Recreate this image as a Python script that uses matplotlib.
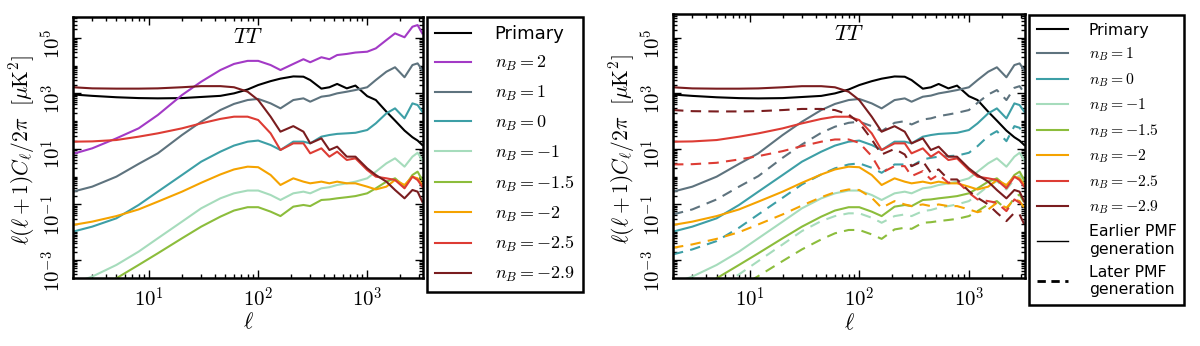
import numpy as np
import matplotlib
matplotlib.use("Agg")
import matplotlib.pyplot as plt
from matplotlib.lines import Line2D
from matplotlib.ticker import LogLocator, FuncFormatter, NullFormatter

plt.rcParams['mathtext.fontset'] = 'cm'
plt.rcParams['font.family'] = ['DejaVu Sans']

# multipole grid
ell = [2, 3, 5, 8, 12, 20, 30, 45, 60, 80, 100, 130, 160, 210, 260, 300, 380, 450,
       530, 650, 780, 1000, 1200, 1500, 1800, 2200, 2600, 2900, 3200]

# log10 of l(l+1)C_l/2pi [muK^2]
primary = [2.96, 2.91, 2.86, 2.83, 2.82, 2.83, 2.87, 2.91, 3.00, 3.14, 3.30, 3.44, 3.53, 3.61,
           3.60, 3.48, 3.17, 3.22, 3.34, 3.18, 3.28, 2.90, 2.76, 2.34, 2.02, 1.66, 1.42, 1.30, 1.14]

# earlier PMF generation (solid)
early_p2 = [0.82, 1.02, 1.38, 1.74, 2.22, 2.94, 3.42, 3.84, 4.06, 4.17, 4.17, 4.02, 3.84, 4.06,
            4.23, 4.12, 4.30, 4.23, 4.38, 4.42, 4.47, 4.50, 4.62, 4.92, 5.16, 5.02, 5.40, 5.46, 5.16]
early_p1 = [-0.54, -0.36, 0.00, 0.46, 0.84, 1.50, 1.98, 2.40, 2.62, 2.76, 2.80, 2.64, 2.46, 2.76,
            2.82, 2.70, 2.88, 2.92, 3.00, 3.06, 3.12, 3.22, 3.48, 3.78, 3.94, 3.58, 4.02, 4.08, 3.84]
early_0 = [-1.98, -1.80, -1.50, -1.02, -0.54, 0.06, 0.54, 0.90, 1.12, 1.26, 1.30, 1.14, 0.96, 1.26,
           1.26, 1.20, 1.44, 1.50, 1.54, 1.56, 1.58, 1.68, 1.92, 2.28, 2.46, 2.10, 2.64, 2.58, 2.34]
early_m1 = [-3.84, -3.60, -3.18, -2.70, -2.22, -1.62, -1.14, -0.78, -0.60, -0.50, -0.50, -0.66, -0.84,
            -0.60, -0.54, -0.60, -0.42, -0.38, -0.30, -0.24, -0.18, -0.06, 0.18, 0.48, 0.66, 0.36,
            0.72, 0.86, 0.60]
early_m15 = [-4.44, -4.20, -3.66, -3.18, -2.76, -2.22, -1.80, -1.44, -1.22, -1.10, -1.10, -1.26, -1.42,
             -1.08, -1.02, -1.06, -0.84, -0.82, -0.78, -0.74, -0.70, -0.60, -0.42, -0.18, -0.06,
             -0.36, 0.06, 0.18, -0.12]
early_m2 = [-1.74, -1.62, -1.42, -1.18, -0.90, -0.54, -0.22, 0.08, 0.26, 0.36, 0.34, 0.06, -0.30,
            -0.06, -0.18, -0.24, -0.18, -0.24, -0.18, -0.24, -0.24, -0.36, -0.46, -0.36, -0.12,
            -0.30, 0.00, -0.06, -0.30]
early_m25 = [1.26, 1.27, 1.32, 1.44, 1.56, 1.74, 1.92, 2.08, 2.16, 2.16, 2.04, 1.56, 0.96, 1.20,
             1.20, 0.84, 1.02, 0.72, 0.90, 0.60, 0.66, 0.24, 0.00, -0.06, -0.12, -0.42, 0.00, -0.12, -0.36]
early_m29 = [3.22, 3.18, 3.17, 3.17, 3.18, 3.22, 3.26, 3.26, 3.22, 3.06, 2.76, 2.16, 1.62, 1.82,
             1.62, 1.20, 1.38, 0.96, 1.08, 0.72, 0.72, 0.30, 0.06, -0.18, -0.48, -0.78, -0.48, -0.54, -0.90]

# later PMF generation (dashed)
late_p1 = [-1.36, -1.18, -0.82, -0.36, 0.02, 0.68, 1.16, 1.58, 1.80, 1.94, 1.98, 1.82, 1.64, 1.94,
           2.00, 1.88, 2.06, 2.10, 2.18, 2.24, 2.30, 2.40, 2.66, 2.96, 3.12, 2.76, 3.20, 3.26, 3.02]
late_0 = [-2.80, -2.62, -2.32, -1.84, -1.36, -0.76, -0.28, 0.08, 0.30, 0.44, 0.48, 0.32, 0.14, 0.44,
          0.44, 0.38, 0.62, 0.68, 0.72, 0.74, 0.76, 0.86, 1.10, 1.46, 1.64, 1.28, 1.82, 1.76, 1.52]
late_m1 = [-4.66, -4.42, -4.00, -3.52, -3.04, -2.44, -1.96, -1.60, -1.42, -1.32, -1.32, -1.48, -1.66,
           -1.42, -1.36, -1.42, -1.24, -1.20, -1.12, -1.06, -1.00, -0.88, -0.64, -0.34, -0.16,
           -0.46, -0.10, 0.04, -0.22]
late_m15 = [-5.26, -5.02, -4.48, -4.00, -3.58, -3.04, -2.62, -2.26, -2.04, -1.92, -1.92, -2.08, -2.24,
            -1.90, -1.84, -1.88, -1.66, -1.64, -1.60, -1.56, -1.52, -1.42, -1.24, -1.00, -0.88,
            -1.18, -0.76, -0.64, -0.94]
late_m2 = [-2.56, -2.44, -2.24, -2.00, -1.72, -1.36, -1.04, -0.74, -0.56, -0.46, -0.48, -0.76, -1.12,
           -0.88, -1.00, -1.06, -1.00, -1.06, -1.00, -1.06, -1.06, -1.18, -1.28, -1.18, -0.94,
           -1.12, -0.82, -0.88, -1.12]
late_m25 = [0.44, 0.45, 0.50, 0.62, 0.74, 0.92, 1.10, 1.26, 1.34, 1.34, 1.22, 0.74, 0.14, 0.38,
            0.38, 0.02, 0.20, -0.10, 0.08, -0.22, -0.16, -0.58, -0.82, -0.88, -0.94, -1.24, -0.82, -0.94, -1.18]
late_m29 = [2.40, 2.36, 2.35, 2.35, 2.36, 2.40, 2.44, 2.44, 2.40, 2.24, 1.94, 1.34, 0.80, 1.00,
            0.80, 0.38, 0.56, 0.14, 0.26, -0.10, -0.10, -0.52, -0.76, -1.00, -1.30, -1.60, -1.30, -1.36, -1.72]

labels = [r"$n_B=2$", r"$n_B=1$", r"$n_B=0$", r"$n_B={-}1$", r"$n_B={-}1.5$",
          r"$n_B={-}2$", r"$n_B={-}2.5$", r"$n_B={-}2.9$"]
colors = ['#a33ac6', '#5e737e', '#3d9fa6', '#a6dcbc', '#8cbd3c', '#f5a300', '#dd3c34', '#7a1d1f']
early = [early_p2, early_p1, early_0, early_m1, early_m15, early_m2, early_m25, early_m29]
late = [None, late_p1, late_0, late_m1, late_m15, late_m2, late_m25, late_m29]

W, H = 1200, 346
fig = plt.figure(figsize=(W / 100, H / 100), dpi=100)
ax1 = fig.add_axes([73 / W, 1 - 278 / H, 350 / W, 261 / H])
ax2 = fig.add_axes([673 / W, 1 - 278 / H, 352 / W, 264 / H])

L = np.array(ell, dtype=float)
lw = 1.5

h1 = []
hp, = ax1.plot(L, 10 ** np.array(primary), color='black', lw=lw, label='Primary')
h1.append(hp)
for lab, c, e in zip(labels, colors, early):
    h, = ax1.plot(L, 10 ** np.array(e), color=c, lw=lw, label=lab)
    h1.append(h)

h2 = []
hp2, = ax2.plot(L, 10 ** np.array(primary), color='black', lw=lw, label='Primary')
h2.append(hp2)
for lab, c, e, d in zip(labels[1:], colors[1:], early[1:], late[1:]):
    h, = ax2.plot(L, 10 ** np.array(e), color=c, lw=lw, label=lab)
    ax2.plot(L, 10 ** np.array(d), color=c, lw=lw, ls=(0, (5, 3.5)))
    h2.append(h)
h2.append(Line2D([], [], color='black', lw=1.0, label='Earlier PMF\ngeneration'))
h2.append(Line2D([], [], color='black', lw=2.0, ls=(0, (3, 2)), label='Later PMF\ngeneration'))

fmt = FuncFormatter(lambda v, p: r"$10^{%d}$" % int(round(np.log10(v))))
for ax, top in ((ax1, 5.75), (ax2, 5.86)):
    ax.set_xscale('log')
    ax.set_yscale('log')
    ax.set_xlim(2, 3250)
    ax.set_ylim(10 ** -3.65, 10 ** top)
    ax.set_yticks([1e-3, 1e-1, 1e1, 1e3, 1e5])
    ax.yaxis.set_major_formatter(fmt)
    ax.yaxis.set_minor_locator(LogLocator(base=10, subs=np.arange(1, 10), numticks=100))
    ax.yaxis.set_minor_formatter(NullFormatter())
    ax.set_xticks([10, 100, 1000])
    ax.xaxis.set_major_formatter(fmt)
    ax.xaxis.set_minor_locator(LogLocator(base=10, subs=np.arange(2, 10), numticks=100))
    ax.xaxis.set_minor_formatter(NullFormatter())
    ax.tick_params(which='both', direction='in', top=True, right=True, width=1.0)
    ax.tick_params(which='major', length=6)
    ax.tick_params(which='minor', length=3)
    ax.tick_params(axis='y', labelrotation=90, labelsize=15, pad=6)
    ax.tick_params(axis='x', labelsize=15, pad=6)
    for s in ax.spines.values():
        s.set_linewidth(1.8)
    ax.set_xlabel(r"$\ell$", fontsize=16)
    ax.set_ylabel(r"$\ell(\ell+1)C_\ell/2\pi\ \ [\mu{\rm K}^2]$", fontsize=15.5)
    ax.yaxis.set_label_coords(-0.103, 0.49)
    ax.xaxis.set_label_coords(0.5, -0.13)
    ax.text(0.5, 0.925, r"$TT$", transform=ax.transAxes, ha='center', va='center', fontsize=16)

leg1 = fig.legend(handles=h1, loc='upper left', bbox_to_anchor=(427 / W, 1 - 17 / H),
                  fontsize=13, frameon=True, fancybox=False, edgecolor='black', framealpha=1,
                  borderaxespad=0, handlelength=2.0, handletextpad=1.3, labelspacing=0.6,
                  borderpad=0.45)
leg1.get_frame().set_linewidth(1.8)
leg2 = fig.legend(handles=h2, loc='upper left', bbox_to_anchor=(1029 / W, 1 - 15 / H),
                  fontsize=11.3, frameon=True, fancybox=False, edgecolor='black', framealpha=1,
                  borderaxespad=0, handlelength=2.0, handletextpad=1.3, labelspacing=0.5,
                  borderpad=0.5)
leg2.get_frame().set_linewidth(1.8)

fig.savefig('out.png', dpi=100)
